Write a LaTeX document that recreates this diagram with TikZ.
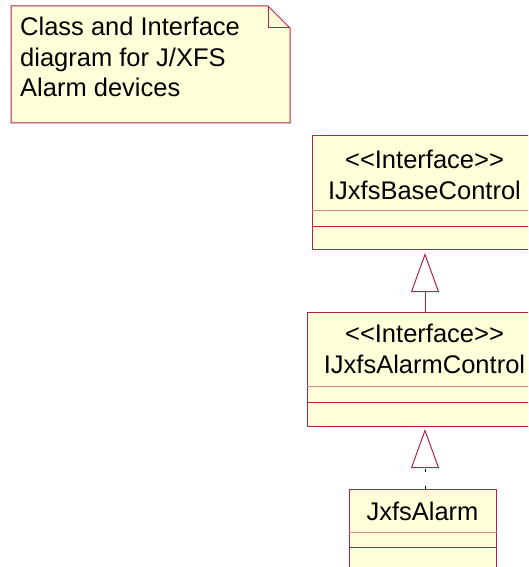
\documentclass[tikz,border=0pt]{standalone}
\usepackage{fontspec}
\setmainfont{Liberation Sans}[Ligatures=TeXOff]
\usetikzlibrary{arrows.meta}
\definecolor{umlfill}{HTML}{FFFFD9}
\definecolor{umlline}{HTML}{B22250}
\definecolor{umllight}{HTML}{D98893}
\begin{document}
\begin{tikzpicture}[x=1pt,y=-1pt,
  classbox/.style={draw=umlline, fill=umlfill, line width=1pt, inner sep=0pt, anchor=north west},
  lbl/.style={inner sep=0pt, font=\fontsize{25.5pt}{31pt}\selectfont},
  divider/.style={draw=umllight, line width=1pt},
  divider2/.style={draw=umlline, line width=1pt},
  gen/.style={line width=1pt, -{Triangle[open, length=39pt, width=28pt, line width=1pt, color=umlline]}}
]
\useasboundingbox (0,0) rectangle (528,567);
\clip (0,0) rectangle (528,567);
\fill[white] (0,0) rectangle (528,567);
% note
\draw[umlline, fill=umlfill, line width=1pt] (11,6) -- (268,6) -- (290,28) -- (290,123) -- (11,123) -- cycle;
\draw[umlline, line width=1pt] (268,6) -- (268,28) -- (290,28);
\node[lbl, anchor=base west] (n1) at (20,36) {Class and Interface};
\node[lbl, anchor=base west] (n2) at (20,66.5) {diagram for J/XFS};
\node[lbl, anchor=base west] (n3) at (20,97) {Alarm devices};
% box 1
\node[classbox, minimum width=225pt, minimum height=114pt] (base) at (312,135) {};
\draw[divider] ([yshift=-75pt]base.north west) -- ([yshift=-75pt]base.north east);
\draw[divider2] ([yshift=-91pt]base.north west) -- ([yshift=-91pt]base.north east);
\node[lbl, anchor=base] (base1) at (424.5,168) {<<Interface>>};
\node[lbl, anchor=base] (base2) at (424.5,199) {IJxfsBaseControl};
% box 2
\node[classbox, minimum width=235pt, minimum height=114pt] (ctl) at (307,312) {};
\draw[divider] ([yshift=-74pt]ctl.north west) -- ([yshift=-74pt]ctl.north east);
\draw[divider2] ([yshift=-90pt]ctl.north west) -- ([yshift=-90pt]ctl.north east);
\node[lbl, anchor=base] (ctl1) at (424.5,342) {<<Interface>>};
\node[lbl, anchor=base] (ctl2) at (424.5,373) {IJxfsAlarmControl};
% box 3
\node[classbox, minimum width=147pt, minimum height=100pt] (jx) at (349,489) {};
\draw[divider] ([yshift=-43pt]jx.north west) -- ([yshift=-43pt]jx.north east);
\draw[divider2] ([yshift=-58pt]jx.north west) -- ([yshift=-58pt]jx.north east);
\node[lbl, anchor=base] (jx1) at (422.5,520) {JxfsAlarm};
% connectors
\draw[gen, umlline, shorten >=3pt] (ctl.north) -- (base.south);
\draw[gen, black, dash pattern=on 3pt off 14pt, shorten >=2pt] (ctl.south |- jx.north) -- (ctl.south);
\end{tikzpicture}
\end{document}
